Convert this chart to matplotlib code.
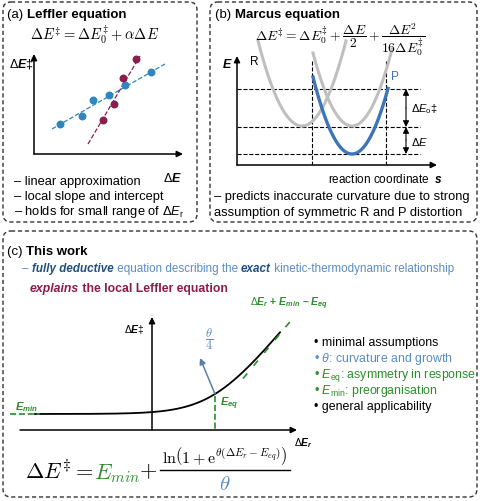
import numpy as np
import matplotlib
matplotlib.use("Agg")
import matplotlib.pyplot as plt
from matplotlib.patches import FancyBboxPatch

plt.rcParams['font.family'] = ['Liberation Sans', 'DejaVu Sans']
plt.rcParams['mathtext.fontset'] = 'custom'
plt.rcParams['mathtext.rm'] = 'Liberation Sans'
plt.rcParams['mathtext.it'] = 'Liberation Sans:italic'
plt.rcParams['mathtext.bf'] = 'Liberation Sans:bold:italic'

BLUE = '#2f86bd'
RED = '#8c1d4d'
GREEN = '#2e8b2e'
LBLUE = '#5b8cc6'
DBLUE = '#1f4f80'
GRAY = '#bfbfbf'

# (a) Leffler data (pixel space of the schematic)
blue_x = [60, 82, 93, 109, 125, 151]
blue_y = [125, 117, 101, 96, 86, 73]
red_x = [103, 114, 123, 136]
red_y = [121, 105, 79, 60]

# (b) Marcus parabolas: (x of minimum, y of minimum, curvature, x range)
parab_R = (302, 127, 0.044, 258, 346)
parab_P_gray = (352, 127, 0.048, 313, 392)
parab_P = (352, 155, 0.0506, 313, 388)
levels = [90, 128, 155]

# (c) softplus curve params
e_min_y = 415
e_eq_x = 215
theta = 0.0426
scale = 1.23

fig = plt.figure(figsize=(4.8, 5.02), dpi=100)
ax = fig.add_axes([0, 0, 1, 1])
ax.set_xlim(0, 480)
ax.set_ylim(502, 0)
ax.axis('off')


def box(x0, y0, x1, y1):
    ax.add_patch(FancyBboxPatch((x0, y0), x1 - x0, y1 - y0, boxstyle="round,pad=0,rounding_size=8",
                                fill=False, ec='#333333', lw=1.0, ls=(0, (3, 2))))


def arrow(x0, y0, x1, y1, color='black', lw=1.1, style='-|>'):
    ax.annotate('', xy=(x1, y1), xytext=(x0, y0),
                arrowprops=dict(arrowstyle=style, color=color, lw=lw, mutation_scale=9, shrinkA=0, shrinkB=0))


def pieces(x, y, parts, size=8.5, **common):
    fig.canvas.draw()
    r = fig.canvas.get_renderer()
    inv = ax.transData.inverted()
    for txt, kw in parts:
        t = ax.text(x, y, txt, fontsize=size, va='center', ha='left', **common, **kw)
        bb = t.get_window_extent(r)
        x = inv.transform((bb.x1, bb.y0))[0]


CM = {'math_fontfamily': 'cm'}

# ---- panel a
box(3, 3, 197, 223)
pieces(7, 15, [('(a) ', {}), ('Leffler equation', {'fontweight': 'bold'})], 9.5)
ax.text(95, 35, r'$\Delta E^{\ddagger} = \Delta E^{\ddagger}_0 + \alpha\Delta E$', fontsize=10.5, ha='center', va='center', **CM)
arrow(34, 155, 34, 55)
arrow(34, 155, 183, 155)
ax.text(9, 64, r'$\Delta\mathbf{E}$‡', fontsize=9, va='center')
ax.text(163, 179, r'$\Delta\mathbf{E}$', fontsize=9, va='center')
ax.plot([52, 165], [130, 65], ls='--', color=BLUE, lw=0.9)
ax.plot([88, 140], [145, 57], ls='--', color=RED, lw=0.9)
ax.scatter(blue_x, blue_y, s=22, color=BLUE, zorder=3)
ax.scatter(red_x, red_y, s=22, color=RED, zorder=3)
for i, s in enumerate(['– linear approximation', '– local slope and intercept',
                       r'– holds for small range of $\Delta E_\mathrm{r}$']):
    ax.text(14, 182 + 15 * i, s, fontsize=9.3, va='center')

# ---- panel b
box(210, 3, 477, 223)
pieces(215, 15, [('(b) ', {}), ('Marcus equation', {'fontweight': 'bold'})], 9.5)
ax.text(340, 40, r'$\Delta E^{\ddagger} = \Delta E^{\ddagger}_0 + \dfrac{\Delta E}{2} + \dfrac{\Delta E^2}{16\Delta E^{\ddagger}_0}$',
        fontsize=9.8, ha='center', va='center', **CM)
arrow(237, 166, 237, 57)
arrow(237, 166, 437, 166)
ax.text(222, 65, r'$\mathbf{E}$', fontsize=9, va='center')
ax.text(328, 180, r'reaction coordinate  $\mathbf{s}$', fontsize=8.5, va='center')
for lv in levels:
    ax.plot([237, 420], [lv, lv], ls='--', color='black', lw=0.8)
for vx in (312, 386):
    ax.plot([vx, vx], [62, 166], ls='--', color='black', lw=0.8)
for (cx, cy, a, xa, xb), col, lw in [(parab_R, GRAY, 2.2), (parab_P_gray, GRAY, 2.2), (parab_P, '#3e74b8', 2.4)]:
    xs = np.linspace(xa, xb, 100)
    ax.plot(xs, cy - a * (xs - cx) ** 2, color=col, lw=lw)
ax.text(250, 62, 'R', fontsize=8.5, va='center')
ax.text(391, 77, 'P', fontsize=8.5, va='center', color='#3e74b8')
arrow(406, 109, 406, 90, lw=0.8)
arrow(406, 109, 406, 128, lw=0.8)
arrow(406, 141, 406, 128, lw=0.8)
arrow(406, 141, 406, 155, lw=0.8)
ax.text(411, 109, r'$\Delta E_\mathrm{o}$‡', fontsize=8, va='center')
ax.text(411, 142, r'$\Delta E$', fontsize=8, va='center')
ax.text(214, 197, '– predicts inaccurate curvature due to strong', fontsize=9.3, va='center')
ax.text(214, 213, 'assumption of symmetric R and P distortion', fontsize=9.3, va='center')

# ---- panel c
box(3, 232, 477, 498)
pieces(7, 252, [('(c) ', {}), ('This work', {'fontweight': 'bold'})], 9.5)
pieces(22, 269, [('– ', {'color': LBLUE}), ('fully deductive', {'color': DBLUE, 'fontweight': 'bold', 'fontstyle': 'italic'}),
                 (' equation describing the ', {'color': LBLUE}),
                 ('exact', {'color': DBLUE, 'fontweight': 'bold', 'fontstyle': 'italic'}),
                 (' kinetic-thermodynamic relationship', {'color': LBLUE})], 8.4)
pieces(30, 289, [('explains', {'color': RED, 'fontweight': 'bold', 'fontstyle': 'italic'}),
                 (' the local Leffler equation', {'color': RED, 'fontweight': 'bold'})], 8.8)
arrow(152, 431, 152, 318)
arrow(20, 431, 297, 431)
ax.text(124, 330, r'$\Delta\mathbf{E}$‡', fontsize=7.5, va='center')
ax.text(294, 443, r'$\Delta\mathbf{E}_\mathbf{r}$', fontsize=7.5, va='center')
xs = np.linspace(35, 280, 300)
ys = e_min_y - scale * np.log1p(np.exp(theta * (xs - e_eq_x))) / theta
ax.plot(xs, ys, color='black', lw=1.3)
ax.plot([10, 40], [e_min_y, e_min_y], ls='--', color=GREEN, lw=1.2)
ax.plot([243, 292], [e_min_y - scale * (243 - e_eq_x) - 1, e_min_y - scale * (292 - e_eq_x)], ls=(0, (4, 6)), color=GREEN, lw=1.2)
ax.plot([e_eq_x, e_eq_x], [397, 431], ls='--', color=GREEN, lw=1.2)
arrow(e_eq_x, 395, 200, 359, color='#5a7fa8', lw=1.1)
ax.text(209, 339, r'$\dfrac{\theta}{4}$', fontsize=9, color=LBLUE, ha='center', va='center', **CM)
ax.text(15, 407, r'$\mathbf{E}_\mathbf{min}$', fontsize=8, color=GREEN, va='center')
ax.text(220, 404, r'$\mathbf{E}_\mathbf{eq}$', fontsize=8, color=GREEN, va='center')
ax.text(250, 304, r'$\Delta\mathbf{E}_\mathbf{r}$ + $\mathbf{E}_\mathbf{min}$ – $\mathbf{E}_\mathbf{eq}$',
        fontsize=7.5, color=GREEN, va='center', fontweight='bold')
bullets = [('minimal assumptions', 'black'), (r'$\theta$: curvature and growth', LBLUE),
           (r'$E_\mathrm{eq}$: asymmetry in response', GREEN), (r'$E_\mathrm{min}$: preorganisation', GREEN),
           ('general applicability', 'black')]
for i, (s, c) in enumerate(bullets):
    ax.text(314, 343 + 16 * i, '• ' + s, fontsize=8.9, color=c, va='center')
ax.text(25, 472, r'$\Delta E^{\ddagger} =$', fontsize=16, va='center', **CM)
ax.text(94, 474, r'$E_{min}$', fontsize=16, va='center', color=GREEN, **CM)
ax.text(139, 472, r'$+$', fontsize=16, va='center', **CM)
ax.text(225, 456, r'$\ln\!\left(1+\mathrm{e}^{\theta(\Delta E_r - E_{eq})}\right)$', fontsize=11.5, ha='center', va='center', **CM)
ax.plot([160, 290], [471, 471], color='black', lw=1.0)
ax.text(225, 485, r'$\theta$', fontsize=15, ha='center', va='center', color=LBLUE, **CM)

fig.savefig('out.png', dpi=100)
